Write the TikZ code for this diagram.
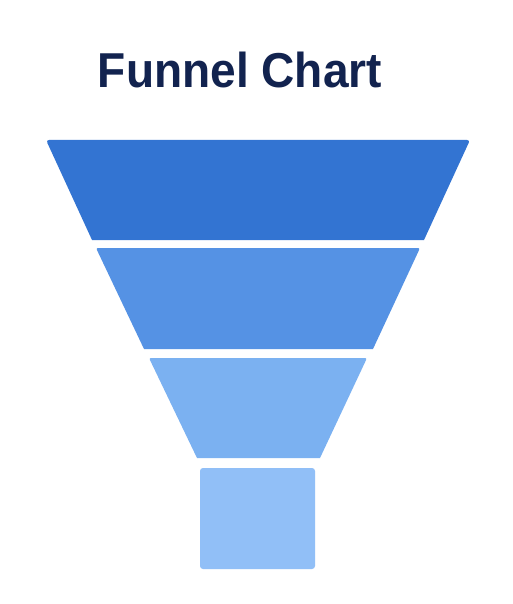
\documentclass[tikz,border=0pt]{standalone}
\usepackage{fontspec}
\setmainfont{Liberation Sans}
\definecolor{titlec}{HTML}{12234F}
\definecolor{c1}{HTML}{3374D2}
\definecolor{c2}{HTML}{5592E4}
\definecolor{c3}{HTML}{7BB1F1}
\definecolor{c4}{HTML}{91BFF7}
\begin{document}
\begin{tikzpicture}[x=1pt,y=-1pt,
  seg/.style={draw=none}]
\useasboundingbox[fill=white] (0,0) rectangle (513,604);
\node[text=titlec, font=\fontsize{49}{56}\selectfont\bfseries, xscale=0.94, transform shape, anchor=base] (title) at (240,88) {Funnel Chart};
\fill[seg, c1] (92,240) [rounded corners=3pt] -- (46,140) -- (470,140) [sharp corners] -- (424,240) -- cycle;
\fill[seg, c2] (144,349) [rounded corners=2pt] -- (96,248) -- (420,248) [sharp corners] -- (373,349) -- cycle;
\fill[seg, c3] (197,458) [rounded corners=2pt] -- (149,358) -- (367,358) [sharp corners] -- (320,458) -- cycle;
\fill[seg, c4, rounded corners=3pt] (200,468) rectangle (315,569);
\end{tikzpicture}
\end{document}
